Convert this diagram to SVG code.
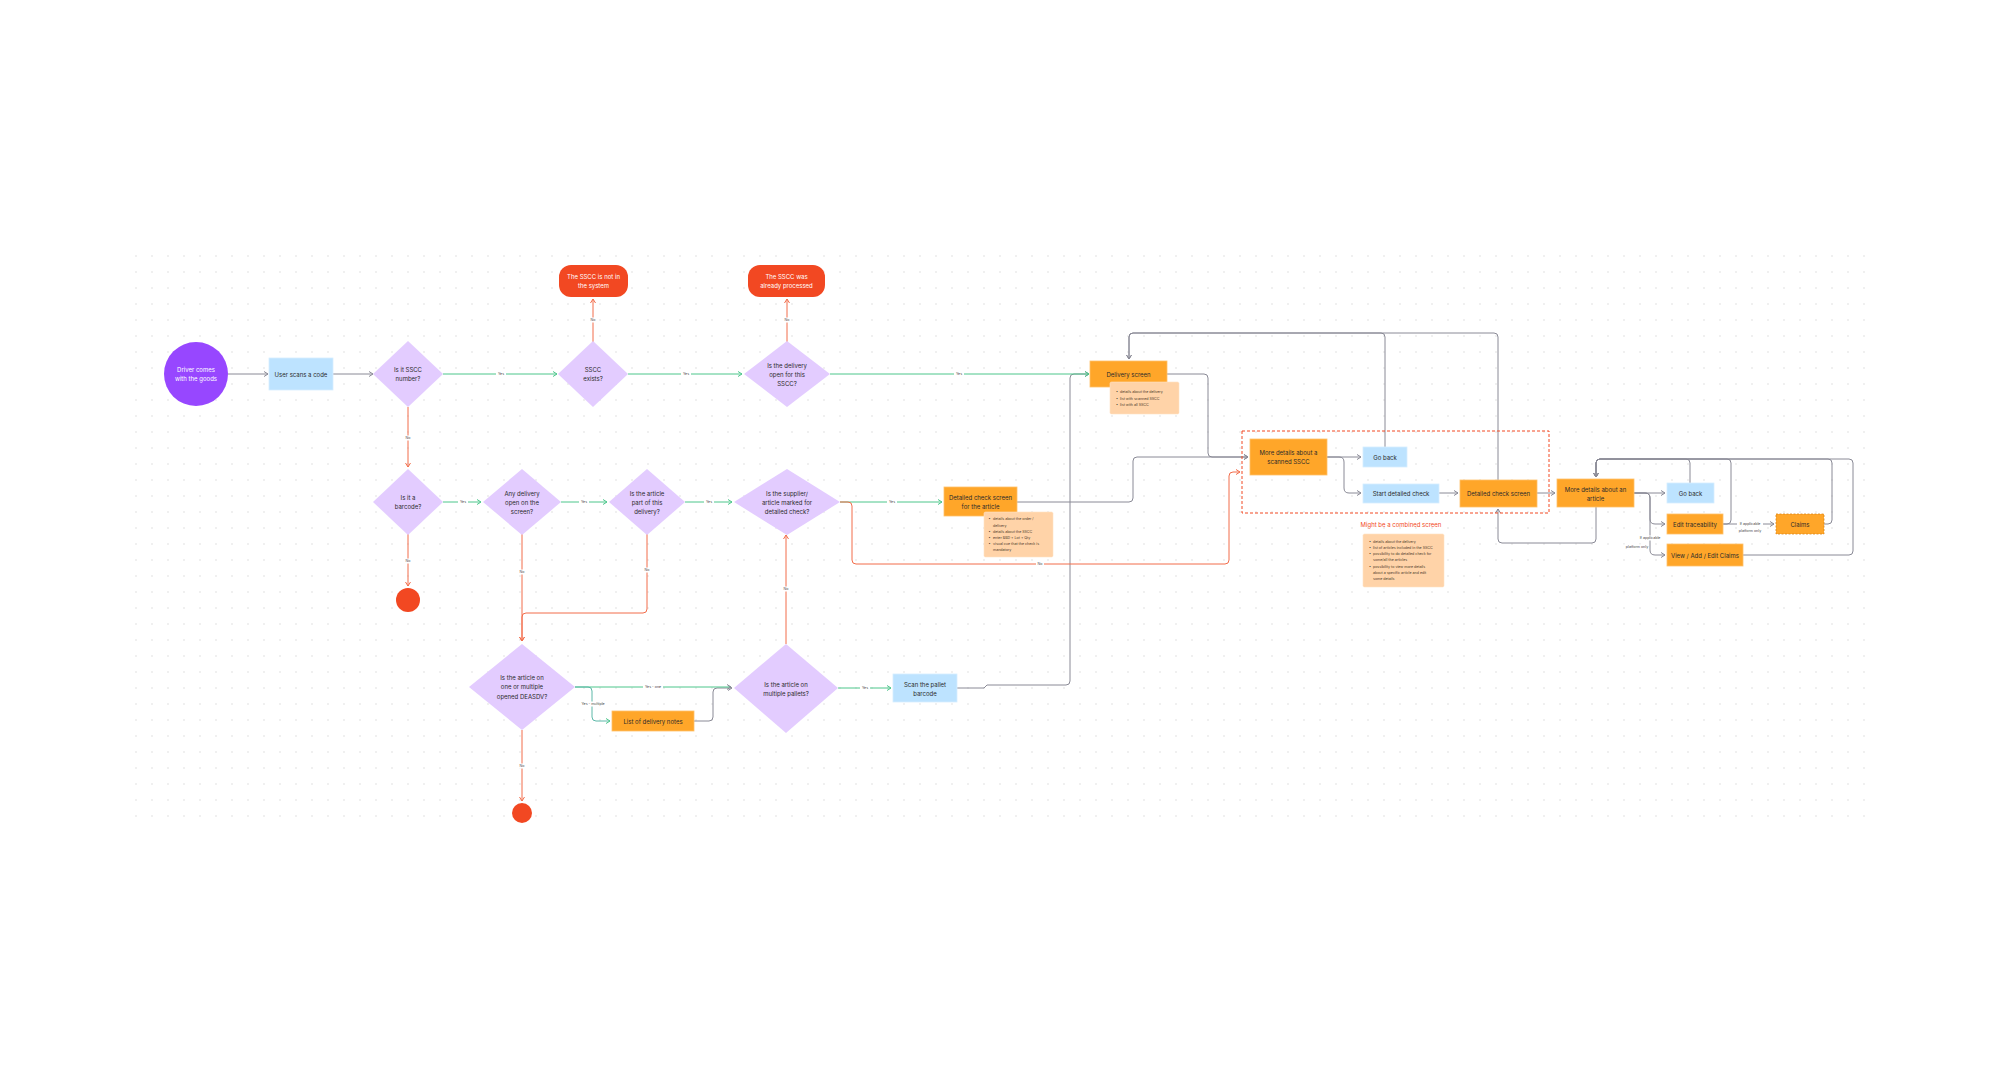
<svg xmlns="http://www.w3.org/2000/svg" width="2000" height="1077" viewBox="0 0 2000 1077">
<defs>
<pattern id="dots" patternUnits="userSpaceOnUse" x="0" y="8" width="16" height="16">
<circle cx="8" cy="8" r="0.7" fill="#d4d4d4"/>
</pattern>
<marker id="ag" markerUnits="userSpaceOnUse" markerWidth="6" markerHeight="6" viewBox="0 0 6 6" refX="5" refY="3" orient="auto"><path d="M1,0.5 L5,3 L1,5.5" fill="none" stroke="#4DC68B" stroke-width="1"/></marker>
<marker id="ar" markerUnits="userSpaceOnUse" markerWidth="6" markerHeight="6" viewBox="0 0 6 6" refX="5" refY="3" orient="auto"><path d="M1,0.5 L5,3 L1,5.5" fill="none" stroke="#F26D4B" stroke-width="1"/></marker>
<marker id="ay" markerUnits="userSpaceOnUse" markerWidth="6" markerHeight="6" viewBox="0 0 6 6" refX="5" refY="3" orient="auto"><path d="M1,0.5 L5,3 L1,5.5" fill="none" stroke="#8A8A96" stroke-width="1"/></marker>
<marker id="at" markerUnits="userSpaceOnUse" markerWidth="6" markerHeight="6" viewBox="0 0 6 6" refX="5" refY="3" orient="auto"><path d="M1,0.5 L5,3 L1,5.5" fill="none" stroke="#4DC68B" stroke-width="1"/></marker>
</defs>
<style>
text{font-family:Inter,"Liberation Sans",sans-serif;}
.t{font-size:6px;fill:#2b2b2b;text-anchor:middle;dominant-baseline:central;}
.tw{font-size:6px;fill:#ffffff;text-anchor:middle;dominant-baseline:central;}
.dia{fill:#E3CCFF;}
.blue{fill:#BDE3FF;stroke:#d6eeff;stroke-width:0.8;}
.orange{fill:#FFA629;stroke:#FFC06A;stroke-width:0.8;}
.note{fill:#FFD3A8;stroke:#FFE2C4;stroke-width:0.6;}
.red{fill:#F24822;}
.nt{font-size:3.6px;fill:#4a3a2a;dominant-baseline:central;}
.c{fill:none;stroke-width:1;}
.cg{stroke:#4DC68B;}
.cr{stroke:#F26D4B;}
.cy{stroke:#8A8A96;}
.ct{stroke:#5CB8A8;}
.lb{fill:#ffffff;}
.lt{font-size:3.6px;fill:#444;text-anchor:middle;dominant-baseline:central;}
</style>
<rect width="2000" height="1077" fill="#ffffff"/>
<rect x="130" y="250" width="1742" height="580" fill="url(#dots)"/>

<g id="connectors">
<!-- gray -->
<path class="c cy" d="M228,374 H268" marker-end="url(#ay)"/>
<path class="c cy" d="M333,374 H373" marker-end="url(#ay)"/>
<path class="c cy" d="M957,688 H984 L987,685 H1066 Q1070,685 1070,681 V378 Q1070,374 1074,374 H1089" marker-end="url(#ay)"/>
<path class="c cy" d="M694,721 H709 Q713,721 713,717 V692 Q713,688 717,688 H732" marker-end="url(#ay)"/>
<path class="c cy" d="M1167,374 H1204 Q1208,374 1208,378 V453 Q1208,457 1212,457 H1248" marker-end="url(#ay)"/>
<path class="c cy" d="M1017,502 H1129 Q1133,502 1133,498 V461 Q1133,457 1137,457 H1248" marker-end="url(#ay)"/>
<path class="c cy" d="M1327,457 H1361" marker-end="url(#ay)"/>
<path class="c cy" d="M1327,457 H1339 Q1344,457 1344,462 V488 Q1344,493 1349,493 H1361" marker-end="url(#ay)"/>
<path class="c cy" d="M1439,493 H1458" marker-end="url(#ay)"/>
<path class="c cy" d="M1385,447 V337 Q1385,333 1381,333 H1133 Q1129,333 1129,337 V359" marker-end="url(#ay)"/>
<path class="c cy" d="M1498,480 V337 Q1498,333 1494,333 H1133 Q1129,333 1129,337 V359" marker-end="url(#ay)"/>
<path class="c cy" d="M1537,493 H1555" marker-end="url(#ay)"/>
<path class="c cy" d="M1596,507 V539 Q1596,543 1592,543 H1502 Q1498,543 1498,539 V509" marker-end="url(#ay)"/>
<path class="c cy" d="M1634,493 H1665" marker-end="url(#ay)"/>
<path class="c cy" d="M1634,493 H1645 Q1650,493 1650,498 V519 Q1650,524 1655,524 H1665" marker-end="url(#ay)"/>
<path class="c cy" d="M1634,493 H1645 Q1650,493 1650,498 V550 Q1650,555 1655,555 H1665" marker-end="url(#ay)"/>
<path class="c cy" d="M1690,483 V463 Q1690,459 1686,459 H1600 Q1596,459 1596,463 V477" marker-end="url(#ay)"/>
<path class="c cy" d="M1723,524 H1727 Q1731,524 1731,520 V463 Q1731,459 1727,459 H1600 Q1596,459 1596,463 V477" marker-end="url(#ay)"/>
<path class="c cy" d="M1723,524 H1774" marker-end="url(#ay)"/>
<path class="c cy" d="M1824,524 H1828 Q1832,524 1832,520 V463 Q1832,459 1828,459 H1600 Q1596,459 1596,463 V477" marker-end="url(#ay)"/>
<path class="c cy" d="M1743,555 H1849 Q1853,555 1853,551 V463 Q1853,459 1849,459 H1600 Q1596,459 1596,463 V477" marker-end="url(#ay)"/>
<!-- green -->
<path class="c cg" d="M443,374 H557" marker-end="url(#ag)"/>
<path class="c cg" d="M628,374 H742" marker-end="url(#ag)"/>
<path class="c cg" d="M830,374 H1089" marker-end="url(#ag)"/>
<path class="c cg" d="M443,502 H481" marker-end="url(#ag)"/>
<path class="c cg" d="M561,502 H607" marker-end="url(#ag)"/>
<path class="c cg" d="M685,502 H732" marker-end="url(#ag)"/>
<path class="c cg" d="M840,502 H942" marker-end="url(#ag)"/>
<path class="c cg" d="M575,687 H731" marker-end="url(#ay)"/>
<path class="c ct" d="M575,687 H588 Q592,687 592,691 V717 Q592,721 596,721 H610" marker-end="url(#at)"/>
<path class="c cg" d="M838,688 H891" marker-end="url(#ag)"/>
<!-- red -->
<path class="c cr" d="M408,407 V467" marker-end="url(#ar)"/>
<path class="c cr" d="M593,342 V299" marker-end="url(#ar)"/>
<path class="c cr" d="M787,342 V299" marker-end="url(#ar)"/>
<path class="c cr" d="M408,534 V586" marker-end="url(#ar)"/>
<path class="c cr" d="M522,534 V641" marker-end="url(#ar)"/>
<path class="c cr" d="M647,534 V609 Q647,613 643,613 H526 Q522,613 522,617 V641" marker-end="url(#ar)"/>
<path class="c cr" d="M840,502 H848 Q852,502 852,506 V560 Q852,564 856,564 H1225 Q1229,564 1229,560 V476 Q1229,472 1233,472 H1240" marker-end="url(#ar)"/>
<path class="c cr" d="M786,644 V535" marker-end="url(#ar)"/>
<path class="c cr" d="M522,730 V801" marker-end="url(#ar)"/>
<!-- labels -->
<g>
<rect class="lb" x="496" y="371.5" width="10" height="5"/><text class="lt" x="501" y="374">Yes</text>
<rect class="lb" x="681" y="371.5" width="10" height="5"/><text class="lt" x="686" y="374">Yes</text>
<rect class="lb" x="954" y="371.5" width="10" height="5"/><text class="lt" x="959" y="374">Yes</text>
<rect class="lb" x="458" y="499.5" width="10" height="5"/><text class="lt" x="463" y="502">Yes</text>
<rect class="lb" x="579" y="499.5" width="10" height="5"/><text class="lt" x="584" y="502">Yes</text>
<rect class="lb" x="704" y="499.5" width="10" height="5"/><text class="lt" x="709" y="502">Yes</text>
<rect class="lb" x="887" y="499.5" width="10" height="5"/><text class="lt" x="892" y="502">Yes</text>
<rect class="lb" x="860" y="685.5" width="10" height="5"/><text class="lt" x="865" y="688">Yes</text>
<rect class="lb" x="643" y="684.5" width="20" height="5"/><text class="lt" x="653" y="687">Yes - one</text>
<rect class="lb" x="579" y="701.5" width="27" height="5"/><text class="lt" x="593" y="704">Yes - multiple</text>
<rect class="lb" x="404" y="435.5" width="8" height="5"/><text class="lt" x="408" y="438">No</text>
<rect class="lb" x="589" y="317.5" width="8" height="5"/><text class="lt" x="593" y="320">No</text>
<rect class="lb" x="783" y="317.5" width="8" height="5"/><text class="lt" x="787" y="320">No</text>
<rect class="lb" x="404" y="558.5" width="8" height="5"/><text class="lt" x="408" y="561">No</text>
<rect class="lb" x="518" y="569.5" width="8" height="5"/><text class="lt" x="522" y="572">No</text>
<rect class="lb" x="643" y="567.5" width="8" height="5"/><text class="lt" x="647" y="570">No</text>
<rect class="lb" x="1036" y="561.5" width="8" height="5"/><text class="lt" x="1040" y="564">No</text>
<rect class="lb" x="782" y="586.5" width="8" height="5"/><text class="lt" x="786" y="589">No</text>
<rect class="lb" x="518" y="763.5" width="8" height="5"/><text class="lt" x="522" y="766">No</text>
<rect class="lb" x="1737" y="521" width="26" height="12"/>
<text class="lt" x="1750" y="524">If applicable</text><text class="lt" x="1750" y="531">platform only</text>
<rect class="lb" x="1637" y="535.5" width="26" height="5"/>
<text class="lt" x="1650" y="538">If applicable</text>
<rect class="lb" x="1623" y="544.5" width="26" height="5"/>
<text class="lt" x="1637" y="547">platform only</text>
</g>
</g>

<g id="start"><circle cx="196" cy="374" r="32" fill="#9747FF"/><text class="tw" x="196" y="369.5">Driver comes</text><text class="tw" x="196" y="378.7">with the goods</text></g>
<g id="scan-code"><rect class="blue" x="269" y="358" width="64" height="32"/><text class="t" x="301" y="374">User scans a code</text></g>
<g id="q-sscc"><polygon class="dia" points="408,341 443,374 408,407 373,374"/><text class="t" x="408" y="369.5">Is it SSCC</text><text class="t" x="408" y="378.5">number?</text></g>
<g id="q-exists"><polygon class="dia" points="593,341 628,374 593,407 558,374"/><text class="t" x="593" y="369.5">SSCC</text><text class="t" x="593" y="378.5">exists?</text></g>
<g id="not-in-system"><rect class="red" x="559" y="265" width="69" height="32" rx="12"/><text class="tw" x="593.5" y="276.7">The SSCC is not in</text><text class="tw" x="593.5" y="285.9">the system</text></g>
<g id="q-open"><polygon class="dia" points="787,341 830,374 787,407 744,374"/><text class="t" x="787" y="365">Is the delivery</text><text class="t" x="787" y="374.2">open for this</text><text class="t" x="787" y="383.3">SSCC?</text></g>
<g id="processed"><rect class="red" x="748" y="265" width="77" height="32" rx="12"/><text class="tw" x="786.5" y="276.7">The SSCC was</text><text class="tw" x="786.5" y="285.9">already processed</text></g>
<g id="delivery-screen"><rect class="orange" x="1090" y="361" width="77" height="26"/><text class="t" x="1128.5" y="374">Delivery screen</text></g>
<g id="note-delivery"><rect class="note" x="1110" y="382" width="69" height="32" rx="1.5"/>
<text class="nt" x="1116" y="392.3">•</text><text class="nt" x="1120" y="392.3">details about the delivery</text>
<text class="nt" x="1116" y="398.5">•</text><text class="nt" x="1120" y="398.5">list with scanned SSCC</text>
<text class="nt" x="1116" y="404.7">•</text><text class="nt" x="1120" y="404.7">list with all SSCC</text></g>

<g id="q-barcode"><polygon class="dia" points="408,469 443,502 408,535 373,502"/><text class="t" x="408" y="497.5">Is it a</text><text class="t" x="408" y="506.5">barcode?</text></g>
<g id="end-1"><circle cx="408" cy="600" r="12" fill="#F24822"/></g>
<g id="q-any-delivery"><polygon class="dia" points="522,469 561,502 522,535 483,502"/><text class="t" x="522" y="493">Any delivery</text><text class="t" x="522" y="502">open on the</text><text class="t" x="522" y="511">screen?</text></g>
<g id="q-article-part"><polygon class="dia" points="647,469 685,502 647,535 609,502"/><text class="t" x="647" y="493">Is the article</text><text class="t" x="647" y="502">part of this</text><text class="t" x="647" y="511">delivery?</text></g>
<g id="q-supplier"><polygon class="dia" points="787,469 840,502 787,535 734,502"/><text class="t" x="787" y="493">Is the supplier/</text><text class="t" x="787" y="502">article marked for</text><text class="t" x="787" y="511">detailed check?</text></g>
<g id="detailed-article"><rect class="orange" x="944" y="487" width="73" height="29"/><text class="t" x="980.5" y="497.3">Detailed check screen</text><text class="t" x="980.5" y="506.3">for the article</text></g>
<g id="note-article"><rect class="note" x="984" y="512" width="69" height="45" rx="1.5"/>
<text class="nt" x="988.5" y="519.3">•</text><text class="nt" x="993" y="519.3">details about the order /</text>
<text class="nt" x="993" y="525.5">delivery</text>
<text class="nt" x="988.5" y="531.7">•</text><text class="nt" x="993" y="531.7">details about the SSCC</text>
<text class="nt" x="988.5" y="537.9">•</text><text class="nt" x="993" y="537.9">enter BBD + Lot + Qty</text>
<text class="nt" x="988.5" y="544">•</text><text class="nt" x="993" y="544">visual cue that the check is</text>
<text class="nt" x="993" y="550.2">mandatory</text></g>

<g id="q-deasdv"><polygon class="dia" points="522,644 575,687 522,730 469,687"/><text class="t" x="522" y="677.7">Is the article on</text><text class="t" x="522" y="686.8">one or multiple</text><text class="t" x="522" y="696">opened DEASDV?</text></g>
<g id="delivery-notes"><rect class="orange" x="612" y="711" width="82" height="20"/><text class="t" x="653" y="721">List of delivery notes</text></g>
<g id="q-pallets"><polygon class="dia" points="786,644 838,688 786,733 734,688"/><text class="t" x="786" y="684">Is the article on</text><text class="t" x="786" y="693.2">multiple pallets?</text></g>
<g id="scan-pallet"><rect class="blue" x="893" y="674" width="64" height="28"/><text class="t" x="925" y="684">Scan the pallet</text><text class="t" x="925" y="693">barcode</text></g>
<g id="end-2"><circle cx="522" cy="813" r="10" fill="#F24822"/></g>

<g id="combined-group"><rect x="1242" y="431" width="307" height="82" fill="none" stroke="#F24822" stroke-width="1" stroke-dasharray="3,2"/><text x="1401" y="524" style="font-size:6px;fill:#F24822;text-anchor:middle;dominant-baseline:central;">Might be a combined screen</text></g>
<g id="more-sscc"><rect class="orange" x="1250" y="439" width="77" height="36"/><text class="t" x="1288.5" y="452.7">More details about a</text><text class="t" x="1288.5" y="461.7">scanned SSCC</text></g>
<g id="go-back-1"><rect class="blue" x="1363" y="447" width="44" height="20"/><text class="t" x="1385" y="457">Go back</text></g>
<g id="start-detailed"><rect class="blue" x="1363" y="484" width="76" height="19"/><text class="t" x="1401" y="493.5">Start detailed check</text></g>
<g id="detailed-screen"><rect class="orange" x="1460" y="480" width="77" height="27"/><text class="t" x="1498.5" y="493.5">Detailed check screen</text></g>
<g id="note-combined"><rect class="note" x="1363" y="534" width="81" height="53" rx="1.5"/>
<text class="nt" x="1369" y="542">•</text><text class="nt" x="1373" y="542">details about the delivery</text>
<text class="nt" x="1369" y="548.2">•</text><text class="nt" x="1373" y="548.2">list of articles included in the SSCC</text>
<text class="nt" x="1369" y="554.3">•</text><text class="nt" x="1373" y="554.3">possibility to do detailed check for</text>
<text class="nt" x="1373" y="560.3">some/all the articles</text>
<text class="nt" x="1369" y="566.6">•</text><text class="nt" x="1373" y="566.6">possibility to view more details</text>
<text class="nt" x="1373" y="572.7">about a specific article and edit</text>
<text class="nt" x="1373" y="578.7">some details</text></g>

<g id="more-article"><rect class="orange" x="1557" y="479" width="77" height="28"/><text class="t" x="1595.5" y="489.3">More details about an</text><text class="t" x="1595.5" y="498.3">article</text></g>
<g id="go-back-2"><rect class="blue" x="1667" y="483" width="47" height="20"/><text class="t" x="1690.5" y="493">Go back</text></g>
<g id="edit-trace"><rect class="orange" x="1667" y="514" width="56" height="20"/><text class="t" x="1695" y="524">Edit traceability</text></g>
<g id="claims"><rect x="1776" y="514" width="48" height="20" fill="#FFA629" stroke="#D9851A" stroke-width="0.8" stroke-dasharray="2,1.5"/><text class="t" x="1800" y="524">Claims</text></g>
<g id="view-claims"><rect class="orange" x="1667" y="544" width="76" height="22"/><text class="t" x="1705" y="555">View / Add / Edit Claims</text></g>
</svg>
